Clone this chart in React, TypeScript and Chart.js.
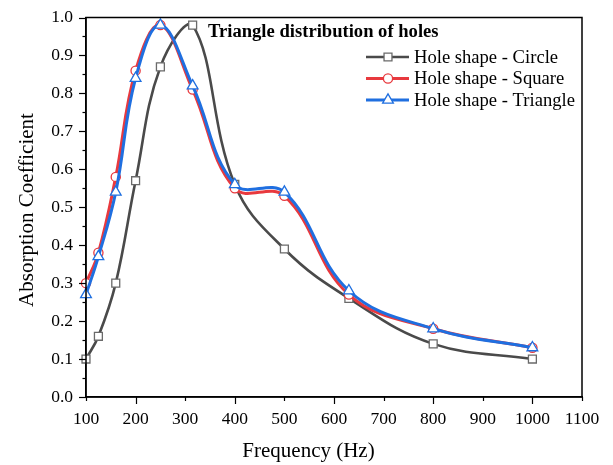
import React, { useEffect, useRef } from 'react';
import { Chart, registerables } from 'chart.js';
import { drawPoint } from 'chart.js/helpers';
Chart.register(...registerables);

const frequencies = [100, 125, 160, 200, 250, 315, 400, 500, 630, 800, 1000];
const circleValues = [0.10, 0.16, 0.30, 0.57, 0.87, 0.98, 0.56, 0.39, 0.26, 0.14, 0.10];
const squareValues = [0.30, 0.38, 0.58, 0.86, 0.98, 0.81, 0.55, 0.53, 0.27, 0.18, 0.13];
const triangleValues = [0.27, 0.37, 0.54, 0.84, 0.98, 0.82, 0.56, 0.54, 0.28, 0.18, 0.13];
const seriesLabels = ['Hole shape - Circle', 'Hole shape - Square', 'Hole shape - Triangle'];
const chartTitle = 'Triangle distribution of holes';
const xTitle = 'Frequency (Hz)';
const yTitle = 'Absorption Coefficient';

const SERIF = '"Liberation Serif", "Times New Roman", serif';
const GRAY = '#4a4a4a';
const RED = '#e8393e';
const BLUE = '#1f6fe0';

const seriesStyles = [
  { color: GRAY, marker: '#6a6a6a', pointStyle: 'rect', radius: 5.6, width: 2.6, order: 2 },
  { color: RED, marker: RED, pointStyle: 'circle', radius: 4.6, width: 3, order: 1 },
  { color: BLUE, marker: BLUE, pointStyle: 'triangle', radius: 6.2, width: 3, order: 0 },
];

const toPoints = (vals: number[]) => frequencies.map((f, i) => ({ x: f, y: vals[i] }));

const overlayPlugin = {
  id: 'overlay',
  afterDraw(chart: any) {
    const { ctx, chartArea } = chart;
    const ys = chart.scales.y;
    const xs = chart.scales.x;
    ctx.save();
    // frame
    ctx.strokeStyle = '#000';
    ctx.lineWidth = 1.5;
    ctx.strokeRect(chartArea.left, chartArea.top, chartArea.right - chartArea.left, chartArea.bottom - chartArea.top);
    // y ticks (major + minor)
    ctx.lineWidth = 1.2;
    for (let k = 0; k <= 20; k++) {
      const v = k * 0.05;
      const len = k % 2 === 0 ? 7 : 3.5;
      const py = Math.round(ys.getPixelForValue(v)) + 0.5;
      ctx.beginPath();
      ctx.moveTo(chartArea.left, py);
      ctx.lineTo(chartArea.left - len, py);
      ctx.stroke();
    }
    // x ticks
    for (let f = 100; f <= 1100; f += 100) {
      const len = (f / 100) % 2 === 0 ? 7 : 4;
      const px = Math.round(xs.getPixelForValue(f)) + 0.5;
      ctx.beginPath();
      ctx.moveTo(px, chartArea.bottom);
      ctx.lineTo(px, chartArea.bottom + len);
      ctx.stroke();
    }
    // title
    ctx.fillStyle = '#000';
    ctx.font = `bold 18.6px ${SERIF}`;
    ctx.textAlign = 'left';
    ctx.textBaseline = 'middle';
    ctx.fillText(chartTitle, 208, 32);
    // legend
    ctx.font = `18.6px ${SERIF}`;
    seriesStyles.forEach((s, i) => {
      const y = 57 + i * 21.5;
      ctx.strokeStyle = s.color;
      ctx.lineWidth = s.width;
      ctx.beginPath();
      ctx.moveTo(366, y);
      ctx.lineTo(409, y);
      ctx.stroke();
      ctx.fillStyle = '#fff';
      ctx.strokeStyle = s.marker;
      ctx.lineWidth = 1.3;
      drawPoint(ctx, { pointStyle: s.pointStyle, radius: s.radius, rotation: 0, borderWidth: 1.3 } as any, 388, y);
      ctx.fillStyle = '#000';
      ctx.fillText(seriesLabels[i], 414, y + 1);
    });
    // axis titles
    ctx.font = `21px ${SERIF}`;
    ctx.textAlign = 'center';
    ctx.fillText(xTitle, 308.5, 451);
    ctx.translate(27, 210);
    ctx.rotate(-Math.PI / 2);
    ctx.fillText(yTitle, 0, 0);
    ctx.restore();
  },
};

export default function App() {
  const ref = useRef<HTMLCanvasElement>(null);
  useEffect(() => {
    document.body.style.margin = '0';
    const chart = new Chart(ref.current!, {
      type: 'line',
      data: {
        datasets: [circleValues, squareValues, triangleValues].map((vals, i) => {
          const s = seriesStyles[i];
          return {
            label: seriesLabels[i],
            data: toPoints(vals),
            borderColor: s.color,
            borderWidth: s.width,
            pointStyle: s.pointStyle as any,
            pointRadius: s.radius,
            pointBorderColor: s.marker,
            pointBackgroundColor: '#fff',
            pointBorderWidth: 1.3,
            tension: 0.4,
            clip: false as any,
            order: s.order,
          };
        }),
      },
      plugins: [overlayPlugin],
      options: {
        animation: false,
        responsive: false,
        devicePixelRatio: 1,
        layout: { padding: { top: 17, right: 31, left: 0, bottom: 0 } },
        plugins: { legend: { display: false }, title: { display: false }, tooltip: { enabled: false } },
        scales: {
          x: {
            type: 'linear',
            min: 100,
            max: 1100,
            afterFit: (s: any) => { s.height = 68; },
            ticks: { stepSize: 100, color: '#000', font: { family: SERIF, size: 17.5 }, padding: 6, maxRotation: 0, callback: (v: any) => String(v) },
            grid: { drawOnChartArea: false, drawTicks: true, tickLength: 6, tickColor: 'rgba(0,0,0,0)' },
            border: { color: '#000', width: 1.5 },
          },
          y: {
            type: 'linear',
            min: 0,
            max: 1,
            afterFit: (s: any) => { s.width = 86; },
            ticks: { stepSize: 0.1, color: '#000', font: { family: SERIF, size: 17.5 }, padding: 7, callback: (v: any) => Number(v).toFixed(1) },
            grid: { drawOnChartArea: false, drawTicks: true, tickLength: 6, tickColor: 'rgba(0,0,0,0)' },
            border: { color: '#000', width: 1.5 },
          },
        },
      },
    });
    return () => chart.destroy();
  }, []);
  return (
    <div style={{ position: 'absolute', left: 0, top: 0, width: 613, height: 465, background: '#fff' }}>
      <canvas ref={ref} width={613} height={465} />
    </div>
  );
}
